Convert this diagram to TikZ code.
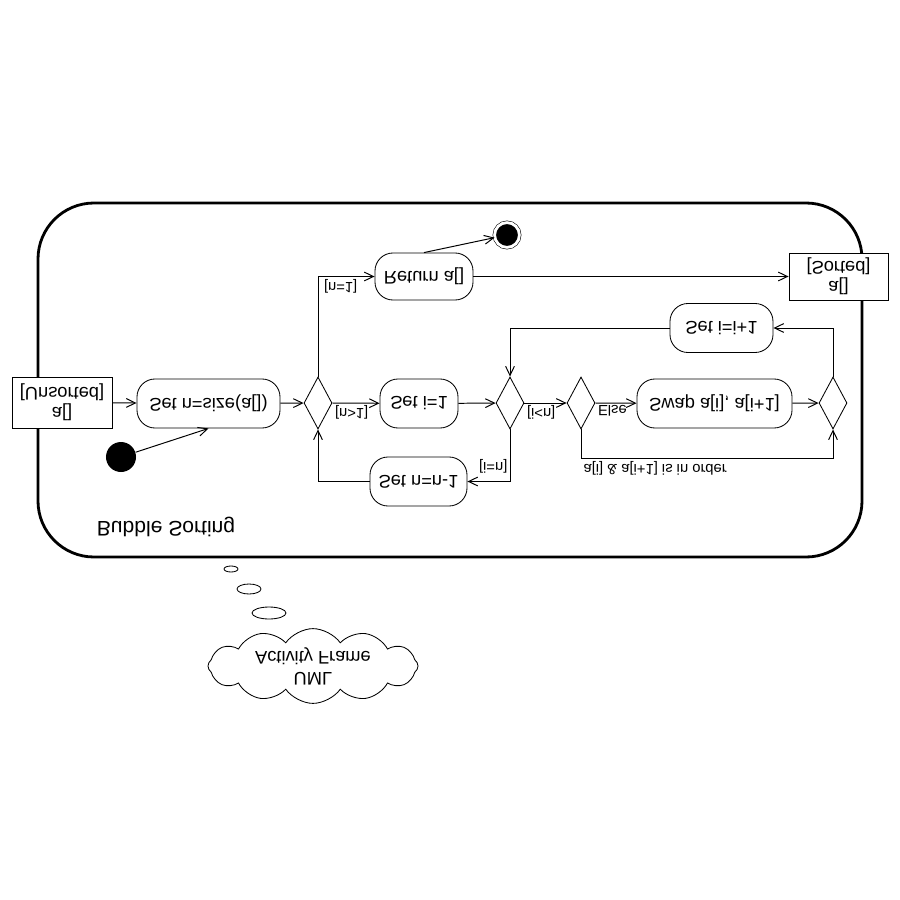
\documentclass[tikz,border=0pt]{standalone}
\usepackage{fontspec}
\setmainfont{Liberation Sans}
\usetikzlibrary{arrows.meta,shapes.geometric,shapes.symbols}

\begin{document}
\begin{tikzpicture}[x=0.025cm,y=0.025cm]
\tikzset{
  action/.style={draw, line width=0.6pt, rounded corners=4.5mm, minimum height=12.25mm, inner sep=0pt, font=\fontsize{13}{15}\selectfont},
  object/.style={draw, fill=white, line width=0.6pt, align=center, inner sep=0pt, font=\fontsize{13}{14}\selectfont},
  decision/.style={draw, diamond, line width=0.6pt, minimum width=7mm, minimum height=13mm, inner sep=0pt},
  flow/.style={line width=0.7pt, -{Straight Barb[length=2.3mm,width=2.2mm]}},
  guard/.style={font=\fontsize{10.5}{12}\selectfont, inner sep=1.5pt},
}

% the whole picture is mirrored top to bottom,
% so north anchors sit at the bottom of the page
\begin{scope}[yscale=-1, transform shape]
\useasboundingbox (0,0) rectangle (900,900);

% activity frame
\draw [line width=2pt, rounded corners=1.4cm] (38,203) rectangle (862,557);
\node [font=\fontsize{15}{17}\selectfont] (title) at (166,527) {Bubble Sorting};

% object pins
\node [object, minimum width=25mm, minimum height=12.75mm] (unsorted) at (62,402.5) {a[]\\{}[Unsorted]};
\node [object, minimum width=24.75mm, minimum height=11.75mm] (sorted) at (838.5,276.5) {a[]\\{}[Sorted]};

% start and end
\node [circle, fill=black, minimum size=7.5mm, inner sep=0pt] (init) at (121,457) {};
\node [circle, draw, fill=black, double=white, double distance=2pt, minimum size=6.2mm, inner sep=0pt] (final) at (507,235) {};

% actions
\node [action, minimum width=35.75mm] (setn) at (208.5,403.5) {Set n=size(a[])};
\node [action, minimum width=19.5mm] (seti) at (419,403.5) {Set i=1};
\node [action, minimum width=38.75mm] (swap) at (714.5,403.5) {Swap a[i], a[i+1]};
\node [action, minimum width=24.5mm, minimum height=11.75mm] (ret) at (424,276.5) {Return a[]};
\node [action, minimum width=25.75mm] (setii) at (721.5,328) {Set i=i+1};
\node [action, minimum width=24.25mm] (setnn) at (418.5,481.5) {Set n=n-1};

% decisions
\node [decision] (d1) at (318,403) {};
\node [decision] (d2) at (510,403) {};
\node [decision] (d3) at (581,403) {};
\node [decision] (d4) at (833,403) {};

% flows
\draw [flow] (unsorted) -- (setn);
\draw [flow] (init) -- (setn.north);
\draw [flow] (setn) -- (d1);
\draw [flow] (d1.south) |- node [guard, pos=0.7, above] {[n=1]} (ret.west);
\draw [flow] (ret.south) -- (final);
\draw [flow] (ret.east) -- (sorted.west);
\draw [flow] (d1.east) -- node [guard, pos=0, above right] {[n>1]} (seti);
\draw [flow] (seti) -- (d2);
\draw [flow] (d2.east) -- node [guard, pos=0, above right] {[i<n]} (d3);
\draw [flow] (d2.north) |- node [guard, pos=0.35, left] {[i=n]} (setnn.east);
\draw [flow] (setnn.west) -| (d1.north);
\draw [flow] (d3.east) -- node [guard, pos=0, above right] {Else} (swap);
\draw [flow] (swap) -- (d4);
\draw [flow] (d3.north) -- ++(0,29) node [guard, above right] {a[i] \& a[i+1] is in order} -| (d4.north);
\draw [flow] (d4.south) |- (setii.east);
\draw [flow] (setii.west) -| (d2.south);

% note cloud
\draw [line width=0.6pt] (231,569) ellipse [x radius=7, y radius=3];
\draw [line width=0.6pt] (249,589) ellipse [x radius=12, y radius=5];
\draw [line width=0.6pt] (269,613) ellipse [x radius=17, y radius=6];
\node [cloud, draw, line width=0.6pt, cloud puffs=12, cloud puff arc=110, aspect=3, minimum width=5.25cm, minimum height=1.75cm, inner sep=0pt, align=center, font=\fontsize{13}{15}\selectfont] (note) at (313,666) {UML\\Activity Frame};
\end{scope}
\end{tikzpicture}
\end{document}
